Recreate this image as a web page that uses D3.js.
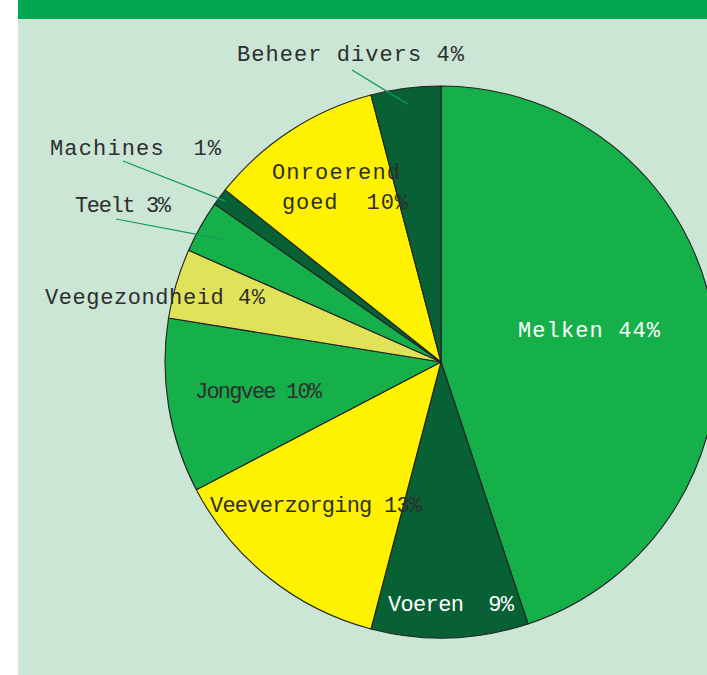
<!DOCTYPE html>
<html lang="nl">
<head>
<meta charset="UTF-8">
<title>Arbeidsverdeling melkveebedrijf</title>
<script src="https://d3js.org/d3.v7.min.js"></script>
<style>
  body { margin: 0; background: #fff; }
  svg { display: block; }
</style>
</head>
<body>
<div id="chart"></div>
<script>
// data, clockwise from 12 o'clock
var categories = ["Melken", "Voeren", "Veeverzorging", "Jongvee", "Veegezondheid", "Teelt", "Machines", "Onroerend goed", "Beheer divers"];
var percentages = [44, 9, 13, 10, 4, 3, 1, 10, 4];
var labelLines = [["Melken 44%"], ["Voeren  9%"], ["Veeverzorging 13%"], ["Jongvee 10%"], ["Veegezondheid 4%"], ["Teelt 3%"], ["Machines  1%"], ["Onroerend", "goed  10%"], ["Beheer divers 4%"]];

var sliceColors = ["#16b04b", "#086035", "#fff200", "#16b04b", "#e0e35a", "#16b04b", "#086035", "#fff200", "#086035"];
var textColors = ["#fff", "#fff", "#2e2e2e", "#2e2e2e", "#2e2e2e", "#2e2e2e", "#2e2e2e", "#2e2e2e", "#2e2e2e"];

// label placement relative to pie centre: [x, baseline, width] per line
var labelPlace = [
    [[77, -25, 142]],
    [[-53, 249, 126]],
    [[-231, 150, 212]],
    [[-246, 36, 127]],
    [[-396, -58, 220]],
    [[-366, -150, 96]],
    [[-391, -207, 171]],
    [[-169, -183, 128], [-159, -153, 126]],
    [[-204, -301, 227]]
];
// leader lines: slice index, outer point, radius of inner end
var leaders = [
    { i: 8, x: -89, y: -292, r: 260 },
    { i: 6, x: -318, y: -201, r: 269 },
    { i: 5, x: -325, y: -143, r: 250 }
];

var width = 707, height = 675;
var cx = 441, cy = 362, radius = 276;

var svg = d3.select("#chart").append("svg")
    .attr("width", width)
    .attr("height", height);

svg.append("rect")
    .attr("x", 18).attr("y", 0)
    .attr("width", width - 18).attr("height", height)
    .attr("fill", "#cbe6d5");
svg.append("rect")
    .attr("x", 18).attr("y", 0)
    .attr("width", width - 18).attr("height", 19)
    .attr("fill", "#00a651");

var g = svg.append("g")
    .attr("transform", "translate(" + cx + "," + cy + ")");

var pie = d3.pie().sort(null).value(function (d) { return d; });
var arcs = pie(percentages);

var arc = d3.arc().innerRadius(0).outerRadius(radius);

g.selectAll("path.slice")
    .data(arcs)
    .enter()
    .append("path")
    .attr("class", "slice")
    .attr("d", arc)
    .attr("fill", function (d, i) { return sliceColors[i]; })
    .attr("stroke", "#222")
    .attr("stroke-width", 1.1)
    .attr("stroke-linejoin", "round");

g.selectAll("line.leader")
    .data(leaders)
    .enter()
    .append("line")
    .attr("class", "leader")
    .attr("x1", function (d) { return d.x; })
    .attr("y1", function (d) { return d.y; })
    .attr("x2", function (d) {
        return d3.arc().innerRadius(d.r).outerRadius(d.r).centroid(arcs[d.i])[0];
    })
    .attr("y2", function (d) {
        return d3.arc().innerRadius(d.r).outerRadius(d.r).centroid(arcs[d.i])[1];
    })
    .attr("stroke", "#0d9a55")
    .attr("stroke-width", 1.2);

labelLines.forEach(function (lines, i) {
    lines.forEach(function (txt, j) {
        var p = labelPlace[i][j];
        g.append("text")
            .attr("x", p[0])
            .attr("y", p[1])
            .attr("textLength", p[2])
            .attr("lengthAdjust", "spacing")
            .attr("fill", textColors[i])
            .style("font-family", "'Liberation Mono', 'DejaVu Sans Mono', monospace")
            .style("font-size", "22px")
            .style("white-space", "pre")
            .text(txt);
    });
});
</script>
</body>
</html>
